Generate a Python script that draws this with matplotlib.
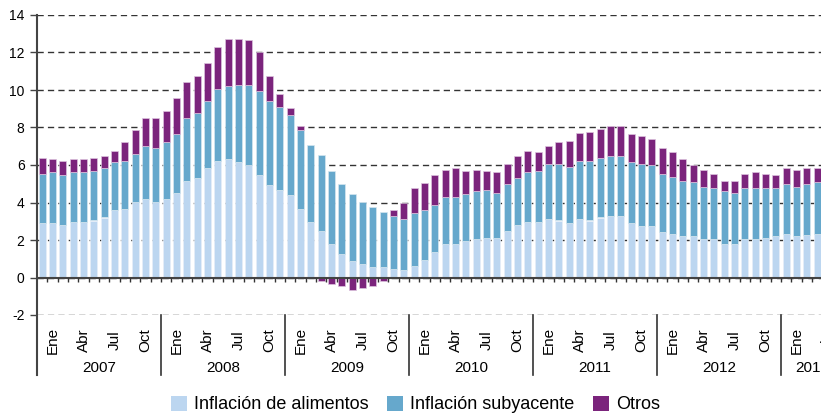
import numpy as np
import matplotlib
matplotlib.use("Agg")
import matplotlib.pyplot as plt
from matplotlib.patches import Patch

plt.rcParams['font.family'] = ['Liberation Sans', 'DejaVu Sans']
plt.rcParams['axes.unicode_minus'] = False

# monthly values, Ene 2007 .. Abr 2013
alimentos = [2.89, 2.89, 2.82, 2.98, 2.98, 3.04, 3.20, 3.59, 3.66, 4.05, 4.21, 4.05,
             4.21, 4.52, 5.14, 5.29, 5.84, 6.23, 6.30, 6.14, 6.00, 5.45, 4.91, 4.68,
             4.38, 3.66, 2.96, 2.50, 1.80, 1.25, 0.89, 0.71, 0.57, 0.57, 0.48, 0.41,
             0.62, 0.96, 1.34, 1.80, 1.80, 1.96, 2.04, 2.13, 2.13, 2.50, 2.82, 2.98,
             2.98, 3.13, 3.04, 2.89, 3.13, 3.04, 3.20, 3.29, 3.29, 2.89, 2.73, 2.73,
             2.43, 2.34, 2.20, 2.20, 2.04, 2.04, 1.80, 1.80, 2.04, 2.04, 2.13, 2.20,
             2.34, 2.20, 2.27, 2.34]
subyacente = [2.63, 2.72, 2.63, 2.63, 2.63, 2.64, 2.64, 2.55, 2.55, 2.56, 2.79, 2.88,
              3.02, 3.11, 3.34, 3.50, 3.57, 3.81, 3.90, 4.13, 4.27, 4.51, 4.50, 4.43,
              4.26, 4.20, 4.11, 4.04, 3.88, 3.73, 3.56, 3.34, 3.18, 2.93, 2.81, 2.72,
              2.81, 2.63, 2.55, 2.49, 2.49, 2.49, 2.55, 2.55, 2.39, 2.48, 2.47, 2.63,
              2.70, 2.94, 3.03, 3.02, 3.10, 3.19, 3.18, 3.17, 3.17, 3.25, 3.34, 3.27,
              3.11, 3.04, 2.94, 2.87, 2.78, 2.71, 2.79, 2.72, 2.71, 2.71, 2.62, 2.55,
              2.64, 2.62, 2.71, 2.73]
otros = [0.87, 0.69, 0.76, 0.69, 0.69, 0.71, 0.62, 0.63, 1.02, 1.25, 1.48, 1.55,
         1.63, 1.92, 1.95, 1.94, 2.02, 2.25, 2.53, 2.46, 2.39, 2.08, 1.32, 0.68,
         0.38, 0.23, -0.05, -0.21, -0.36, -0.46, -0.68, -0.54, -0.45, -0.21, 0.30, 0.85,
         1.32, 1.46, 1.56, 1.46, 1.55, 1.23, 1.16, 1.00, 1.09, 1.09, 1.17, 1.16,
         1.02, 0.93, 1.16, 1.39, 1.47, 1.54, 1.55, 1.63, 1.63, 1.49, 1.47, 1.39,
         1.39, 1.32, 1.16, 0.93, 0.93, 0.79, 0.55, 0.62, 0.79, 0.86, 0.79, 0.70,
         0.86, 0.93, 0.86, 0.77]

years = ['2007', '2008', '2009', '2010', '2011', '2012', '2013']
month_labels = ['Ene', 'Abr', 'Jul', 'Oct']
labels = ['Inflación de alimentos', 'Inflación subyacente', 'Otros']
colors = ['#bcd6f0', '#66a8cc', '#7b247c']

food = np.array(alimentos)
core = np.array(subyacente)
other = np.array(otros)
x = np.arange(len(food))

fig = plt.figure(figsize=(8.21, 4.15), dpi=100)
# the plot runs off the right edge of the picture, as in the original
ax = fig.add_axes([37 / 821, 100 / 415, 806 / 821, 300 / 415])

w = 0.7
ax.bar(x, food, w, color=colors[0], edgecolor='#e6eef8', linewidth=0.5, zorder=3)
ax.bar(x, core, w, bottom=food, color=colors[1], edgecolor='#d5e6f0', linewidth=0.5, zorder=3)
ob = np.where(other >= 0, food + core, 0)
ax.bar(x, other, w, bottom=ob, color=colors[2], edgecolor='#dcc3de', linewidth=0.5, zorder=3)

ax.set_xlim(-0.5, 77.5)
ax.set_ylim(-2, 14)
ax.set_yticks(range(-2, 15, 2))
ax.tick_params(axis='y', length=5, width=1, color='#444444', labelsize=10, pad=4)
ax.set_xticks([])
for s in ['top', 'right', 'bottom', 'left']:
    ax.spines[s].set_visible(False)
ax.yaxis.grid(True, linestyle=(0, (4.5, 3)), color='#333333', linewidth=1, zorder=1)
ax.axhline(0, color='#444444', linewidth=1.5, zorder=4)

lc = '#333333'
ax.plot([-0.5, -0.5], [-5.2, 14], color='#444444', lw=1.5, clip_on=False, zorder=5)
ax.vlines(np.arange(0.5, 77.5, 1), -0.22, 0, color=lc, lw=1, zorder=4)
for i, yr in enumerate(years):
    start = i * 12
    if i > 0:
        ax.plot([start - 0.5, start - 0.5], [-2, -5.2], color=lc, lw=1.2, clip_on=False)
    nslots = 6 if yr == '2013' else 12
    ax.text(start - 0.5 + nslots / 2, -4.83, yr, ha='center', va='center',
            fontsize=11, clip_on=False)
    for k, m in enumerate(month_labels):
        if start + 3 * k < len(food) + 1:
            ax.text(start + 3 * k + 1.0, -3.35, m, rotation=90, ha='center',
                    va='center', fontsize=11, clip_on=False)

handles = [Patch(facecolor=c, edgecolor='none') for c in colors]
fig.legend(handles, labels, loc='center', bbox_to_anchor=(0.506, 0.025), ncol=3,
           frameon=False, fontsize=13, handlelength=0.9, handleheight=0.9,
           handletextpad=0.4, columnspacing=1.0, borderaxespad=0)

fig.savefig('out.png', dpi=100)
